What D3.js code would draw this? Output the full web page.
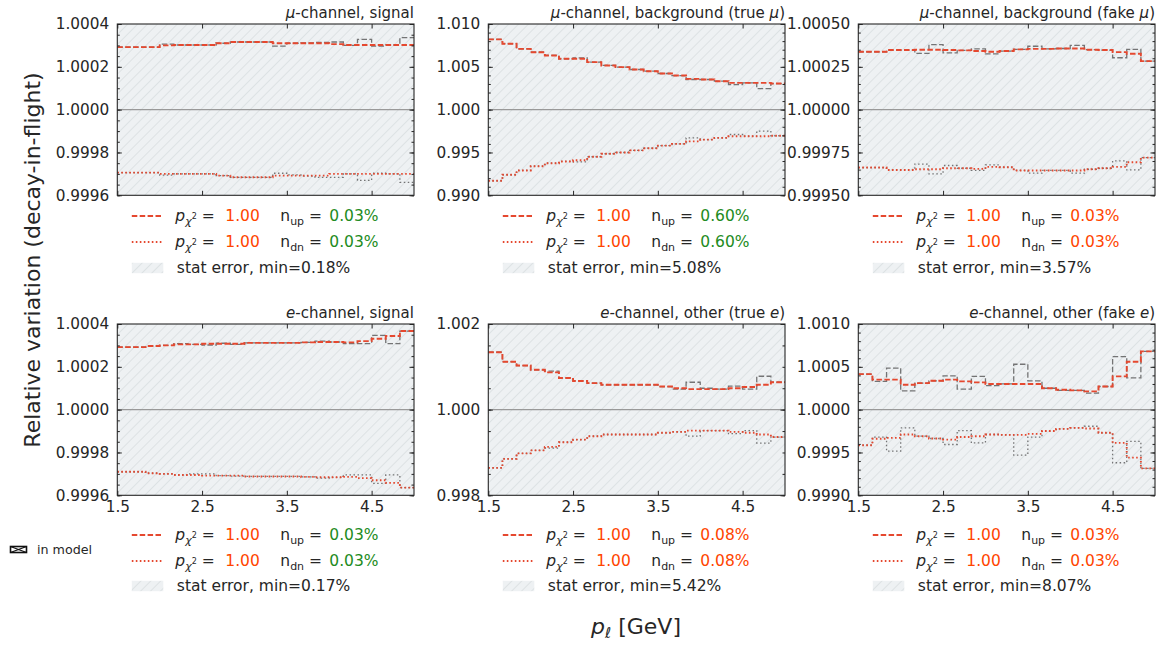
<!DOCTYPE html>
<html><head><meta charset="utf-8">
<script src="https://cdn.jsdelivr.net/npm/d3@7"></script>
<style>body{margin:0;background:#fff;} svg{display:block;font-family:"DejaVu Sans",sans-serif;}</style>
</head><body><svg id="c" width="1161" height="648"></svg>
<script>
// ---------------- data ----------------
const binEdges = [1.5,1.6667,1.8333,2.0,2.1667,2.3333,2.5,2.6667,2.8333,3.0,3.1667,3.3333,3.5,3.6667,3.8333,4.0,4.1667,4.3333,4.5,4.6667,4.8333,5.0];

const titles = ["$μ$-channel, signal","$μ$-channel, background (true $μ$)","$μ$-channel, background (fake $μ$)",
                "$e$-channel, signal","$e$-channel, other (true $e$)","$e$-channel, other (fake $e$)"];

// mu-channel, signal
const muSigUpModel = [1.000292,1.000292,1.000292,1.000300,1.000302,1.000302,1.000302,1.000310,1.000316,1.000316,1.000316,1.000310,1.000310,1.000310,1.000310,1.000306,1.000302,1.000302,1.000302,1.000302,1.000302];
const muSigUpRaw   = [1.000292,1.000292,1.000292,1.000306,1.000302,1.000302,1.000302,1.000310,1.000316,1.000316,1.000316,1.000297,1.000310,1.000312,1.000314,1.000316,1.000300,1.000328,1.000297,1.000302,1.000336];
const muSigDnModel = [0.999706,0.999706,0.999706,0.999700,0.999700,0.999700,0.999700,0.999692,0.999684,0.999684,0.999684,0.999692,0.999692,0.999692,0.999692,0.999700,0.999700,0.999700,0.999700,0.999700,0.999700];
const muSigDnRaw   = [0.999706,0.999706,0.999706,0.999694,0.999700,0.999700,0.999700,0.999692,0.999684,0.999684,0.999684,0.999703,0.999695,0.999690,0.999684,0.999684,0.999700,0.999670,0.999703,0.999700,0.999660];

// mu-channel, background (true mu)
const muTrueUpModel = [1.00820,1.00770,1.00710,1.00670,1.00633,1.00594,1.00594,1.00555,1.00516,1.00496,1.00469,1.00449,1.00422,1.00398,1.00359,1.00352,1.00332,1.00313,1.00313,1.00313,1.00305];
const muTrueUpRaw   = [1.00820,1.00770,1.00710,1.00670,1.00633,1.00594,1.00605,1.00555,1.00516,1.00496,1.00469,1.00449,1.00422,1.00398,1.00352,1.00352,1.00332,1.00293,1.00313,1.00245,1.00305];
const muTrueDnModel = [0.99170,0.99240,0.99290,0.99340,0.99375,0.99395,0.99410,0.99450,0.99485,0.99500,0.99525,0.99550,0.99580,0.99600,0.99630,0.99650,0.99670,0.99690,0.99690,0.99690,0.99695];
const muTrueDnRaw   = [0.99170,0.99240,0.99290,0.99340,0.99375,0.99395,0.99390,0.99450,0.99485,0.99500,0.99525,0.99550,0.99580,0.99600,0.99670,0.99650,0.99670,0.99710,0.99690,0.99750,0.99695];

// mu-channel, background (fake mu)
const muFakeUpModel = [1.000338,1.000338,1.000348,1.000348,1.000350,1.000350,1.000348,1.000346,1.000342,1.000338,1.000342,1.000352,1.000355,1.000355,1.000357,1.000357,1.000350,1.000348,1.000336,1.000326,1.000283];
const muFakeUpRaw   = [1.000338,1.000338,1.000348,1.000348,1.000328,1.000380,1.000332,1.000346,1.000355,1.000326,1.000342,1.000352,1.000370,1.000355,1.000357,1.000375,1.000350,1.000348,1.000303,1.000352,1.000283];
const muFakeDnModel = [0.999662,0.999662,0.999648,0.999648,0.999652,0.999652,0.999658,0.999658,0.999654,0.999666,0.999664,0.999645,0.999645,0.999645,0.999645,0.999645,0.999652,0.999658,0.999666,0.999693,0.999720];
const muFakeDnRaw   = [0.999662,0.999662,0.999648,0.999648,0.999682,0.999625,0.999674,0.999658,0.999645,0.999678,0.999664,0.999645,0.999629,0.999645,0.999645,0.999629,0.999652,0.999658,0.999701,0.999648,0.999720];

// e-channel, signal
const eSigUpModel = [1.000292,1.000292,1.000297,1.000300,1.000305,1.000305,1.000308,1.000308,1.000308,1.000312,1.000312,1.000312,1.000312,1.000314,1.000316,1.000316,1.000314,1.000320,1.000331,1.000344,1.000367];
const eSigUpRaw   = [1.000292,1.000292,1.000297,1.000300,1.000308,1.000305,1.000302,1.000310,1.000305,1.000312,1.000312,1.000312,1.000312,1.000314,1.000320,1.000316,1.000308,1.000308,1.000347,1.000308,1.000367];
const eSigDnModel = [0.999710,0.999710,0.999703,0.999700,0.999695,0.999695,0.999692,0.999692,0.999692,0.999688,0.999688,0.999688,0.999688,0.999686,0.999684,0.999684,0.999686,0.999680,0.999670,0.999658,0.999636];
const eSigDnRaw   = [0.999710,0.999710,0.999703,0.999700,0.999695,0.999700,0.999700,0.999692,0.999690,0.999688,0.999688,0.999688,0.999688,0.999686,0.999680,0.999684,0.999695,0.999695,0.999656,0.999695,0.999636];

// e-channel, other (true e)
const eTrueUpModel = [1.00134,1.00112,1.00103,1.00093,1.00087,1.00074,1.00067,1.00062,1.00058,1.00058,1.00058,1.00058,1.00054,1.00050,1.00048,1.00048,1.00048,1.00050,1.00053,1.00058,1.00064];
const eTrueUpRaw   = [1.00134,1.00112,1.00103,1.00093,1.00090,1.00074,1.00067,1.00062,1.00058,1.00058,1.00058,1.00058,1.00054,1.00048,1.00064,1.00050,1.00048,1.00055,1.00048,1.00078,1.00064];
const eTrueDnModel = [0.99864,0.99885,0.99898,0.99905,0.99913,0.99924,0.99930,0.99938,0.99942,0.99942,0.99942,0.99942,0.99946,0.99948,0.99951,0.99951,0.99951,0.99948,0.99946,0.99942,0.99936];
const eTrueDnRaw   = [0.99864,0.99885,0.99898,0.99905,0.99910,0.99924,0.99930,0.99938,0.99942,0.99942,0.99942,0.99942,0.99946,0.99948,0.99938,0.99951,0.99951,0.99944,0.99951,0.99922,0.99936];

// e-channel, other (fake e)
const eFakeUpModel = [1.000415,1.000350,1.000350,1.000290,1.000310,1.000337,1.000350,1.000330,1.000318,1.000300,1.000300,1.000300,1.000300,1.000250,1.000233,1.000225,1.000213,1.000270,1.000388,1.000560,1.000680];
const eFakeUpRaw   = [1.000415,1.000330,1.000485,1.000220,1.000310,1.000337,1.000395,1.000240,1.000388,1.000280,1.000300,1.000530,1.000337,1.000250,1.000225,1.000225,1.000194,1.000270,1.000620,1.000370,1.000680];
const eFakeDnModel = [0.999585,0.999660,0.999670,0.999710,0.999690,0.999663,0.999650,0.999680,0.999690,0.999710,0.999705,0.999705,0.999717,0.999750,0.999775,0.999787,0.999780,0.999730,0.999612,0.999440,0.999314];
const eFakeDnRaw   = [0.999585,0.999680,0.999515,0.999787,0.999690,0.999663,0.999593,0.999756,0.999612,0.999710,0.999705,0.999470,0.999680,0.999750,0.999775,0.999787,0.999806,0.999730,0.999380,0.999630,0.999314];

const upModel = [muSigUpModel, muTrueUpModel, muFakeUpModel, eSigUpModel, eTrueUpModel, eFakeUpModel];
const upRaw   = [muSigUpRaw, muTrueUpRaw, muFakeUpRaw, eSigUpRaw, eTrueUpRaw, eFakeUpRaw];
const dnModel = [muSigDnModel, muTrueDnModel, muFakeDnModel, eSigDnModel, eTrueDnModel, eFakeDnModel];
const dnRaw   = [muSigDnRaw, muTrueDnRaw, muFakeDnRaw, eSigDnRaw, eTrueDnRaw, eFakeDnRaw];

const pChi2Up = ["1.00","1.00","1.00","1.00","1.00","1.00"];
const pChi2Dn = ["1.00","1.00","1.00","1.00","1.00","1.00"];
const nUp = ["0.03%","0.60%","0.03%","0.03%","0.08%","0.03%"];
const nDn = ["0.03%","0.60%","0.03%","0.03%","0.08%","0.03%"];
const statErrMin = [0.0018, 0.0508, 0.0357, 0.0017, 0.0542, 0.0807];

const yDomains = [[0.9996,1.0004],[0.990,1.010],[0.9995,1.0005],[0.9996,1.0004],[0.998,1.002],[0.999,1.001]];
const yMajorTicks = [[0.9996,0.9998,1.0,1.0002,1.0004],[0.990,0.995,1.0,1.005,1.010],[0.9995,0.99975,1.0,1.00025,1.0005],
                     [0.9996,0.9998,1.0,1.0002,1.0004],[0.998,1.0,1.002],[0.999,0.9995,1.0,1.0005,1.001]];
const yMinorStep = [0.00005,0.001,0.00005,0.00005,0.0005,0.0001];
const yTickFormats = [".4f",".3f",".5f",".4f",".3f",".4f"];
const xDomain = [1.5, 5.0];
const xTickValues = [1.5, 2.5, 3.5, 4.5];

// ---------------- style ----------------
const RED = "#e5482f", GRAY = "#555", ORANGE = "#ff4500", GREEN = "#228b22";
const nColors = [GREEN, GREEN, ORANGE, GREEN, ORANGE, ORANGE];
const lefts = [117.3, 488.3, 858.3], tops = [24, 324], PW = 296.7, PH = 171.3;
const legendRowsY = [[216, 242, 268], [535, 561, 586]];
const FS = 15.3, LFS = 15.5;

const svg = d3.select("#c");
const defs = svg.append("defs");
const pat = defs.append("pattern").attr("id","hatch").attr("patternUnits","userSpaceOnUse")
  .attr("width",7).attr("height",7).attr("patternTransform","rotate(45)");
pat.append("rect").attr("width",7).attr("height",7).attr("fill","#eef1f3");
pat.append("line").attr("x1",0).attr("y1",0).attr("x2",0).attr("y2",7).attr("stroke","#d5dadd").attr("stroke-width",1.3);

function richText(sel, str){
  str.split("$").forEach((s,i)=>{ if(s.length) sel.append("tspan").attr("font-style", i%2 ? "italic":"normal").text(s); });
}

for (let k = 0; k < 6; k++) {
  const col = k % 3, row = Math.floor(k / 3);
  const L = lefts[col], T = tops[row];
  const g = svg.append("g").attr("transform", `translate(${L},${T})`);
  const x = d3.scaleLinear().domain(xDomain).range([0, PW]);
  const y = d3.scaleLinear().domain(yDomains[k]).range([PH, 0]);

  defs.append("clipPath").attr("id","clip"+k).append("rect").attr("width",PW).attr("height",PH);
  const pg = g.append("g").attr("clip-path",`url(#clip${k})`);

  // stat error band
  const band = d3.area().x(d=>x(d)).y0(y(1 - statErrMin[k])).y1(y(1 + statErrMin[k]));
  pg.append("path").datum(binEdges).attr("d", band).attr("fill","url(#hatch)");
  // reference line at 1
  pg.append("line").attr("x1",0).attr("x2",PW).attr("y1",y(1)).attr("y2",y(1)).attr("stroke","#999").attr("stroke-width",1.1);

  const stepLine = d3.line().x(d=>x(d[0])).y(d=>y(d[1])).curve(d3.curveStepAfter);
  const pts = vals => vals.map((v,i)=>[binEdges[i], v]).concat([[binEdges[binEdges.length-1], vals[vals.length-1]]]);
  const draw = (vals, color, w, dash, op) => pg.append("path").datum(pts(vals)).attr("d", stepLine)
      .attr("fill","none").attr("stroke",color).attr("stroke-width",w).attr("stroke-dasharray",dash).attr("opacity",op);
  draw(upRaw[k], GRAY, 1.3, "5.5,2.4", 0.8);
  draw(dnRaw[k], GRAY, 1.3, "1.5,2.5", 0.8);
  draw(upModel[k], RED, 1.9, "5.5,2.4", 1);
  draw(dnModel[k], RED, 1.9, "1.6,2.4", 1);

  // axes
  const minorTicks = d3.range(yDomains[k][0], yDomains[k][1] + yMinorStep[k]/2, yMinorStep[k]);
  const styleAxis = a => { a.select(".domain").remove(); a.selectAll("line").attr("stroke","#262626").attr("stroke-width",1);
      a.selectAll("text").attr("font-size",FS).attr("fill","#262626").attr("font-family","DejaVu Sans"); };
  g.append("g").call(d3.axisLeft(y).tickValues(minorTicks).tickSize(-2.5).tickFormat("")).call(styleAxis);
  g.append("g").attr("transform",`translate(${PW},0)`).call(d3.axisRight(y).tickValues(minorTicks).tickSize(-2.5).tickFormat("")).call(styleAxis);
  g.append("g").call(d3.axisLeft(y).tickValues(yMajorTicks[k]).tickSize(-4.5).tickPadding(8).tickFormat(d3.format(yTickFormats[k]))).call(styleAxis);
  g.append("g").attr("transform",`translate(${PW},0)`).call(d3.axisRight(y).tickValues(yMajorTicks[k]).tickSize(-4.5).tickFormat("")).call(styleAxis);
  g.append("g").attr("transform",`translate(0,${PH})`).call(d3.axisBottom(x).tickValues(xTickValues).tickSize(-4.5).tickPadding(6)
      .tickFormat(row === 1 ? d3.format(".1f") : "")).call(styleAxis);
  g.append("g").call(d3.axisTop(x).tickValues(xTickValues).tickSize(-4.5).tickFormat("")).call(styleAxis);

  g.append("rect").attr("width",PW).attr("height",PH).attr("fill","none").attr("stroke","#262626").attr("stroke-width",1.1);

  // title
  const t = g.append("text").attr("x",PW).attr("y",-6).attr("text-anchor","end").attr("font-size",15).attr("fill","#262626");
  richText(t, titles[k]);

  // legend
  const lg = svg.append("g").attr("transform",`translate(${L},0)`).attr("font-size",LFS).attr("fill","#262626");
  const ry = legendRowsY[row];
  const rows = [[pChi2Up[k], nUp[k], "up", "5.5,2.4", 1.9], [pChi2Dn[k], nDn[k], "dn", "1.6,2.4", 1.9]];
  rows.forEach((r,i)=>{
    const cy = ry[i];
    lg.append("line").attr("x1",14.5).attr("x2",46).attr("y1",cy).attr("y2",cy).attr("stroke",RED).attr("stroke-width",r[4]).attr("stroke-dasharray",r[3]);
    const t1 = lg.append("text").attr("x",58).attr("y",cy).attr("dy","0.35em");
    t1.append("tspan").attr("font-style","italic").text("p");
    t1.append("tspan").attr("font-style","italic").attr("font-size",11).attr("dy",3.5).text("χ");
    t1.append("tspan").attr("font-size",8).attr("dy",-6).text("2");
    t1.append("tspan").attr("dy",2.5).text(" =");
    lg.append("text").attr("x",108).attr("y",cy).attr("dy","0.35em").attr("fill",ORANGE).text(r[0]);
    const t2 = lg.append("text").attr("x",163).attr("y",cy).attr("dy","0.35em");
    t2.append("tspan").text("n");
    t2.append("tspan").attr("font-size",11).attr("dy",3.5).text(r[2]);
    t2.append("tspan").attr("dy",-3.5).text(" =");
    lg.append("text").attr("x",212).attr("y",cy).attr("dy","0.35em").attr("fill",nColors[k]).text(r[1]);
  });
  lg.append("rect").attr("x",14.5).attr("y",ry[2]-5.2).attr("width",31.5).attr("height",10.4).attr("fill","url(#hatch)");
  lg.append("text").attr("x",59.5).attr("y",ry[2]).attr("dy","0.35em").text("stat error, min=" + (statErrMin[k]*100).toFixed(2) + "%");
}

// "in model" marker
const im = svg.append("g");
im.append("rect").attr("x",10.5).attr("y",546.5).attr("width",16).attr("height",6).attr("fill","none").attr("stroke","#111").attr("stroke-width",1.6);
im.append("path").attr("d","M10.5,546.5L26.5,552.5M10.5,552.5L26.5,546.5").attr("stroke","#111").attr("stroke-width",1.2);
im.append("text").attr("x",37).attr("y",550).attr("dy","0.35em").attr("font-size",12.7).attr("fill","#262626").text("in model");

// axis titles
svg.append("text").attr("transform","translate(40,260) rotate(-90)").attr("text-anchor","middle")
  .attr("font-size",22).attr("fill","#262626").text("Relative variation (decay-in-flight)");
const xl = svg.append("text").attr("x",636).attr("y",634).attr("text-anchor","middle").attr("font-size",22).attr("fill","#262626");
xl.append("tspan").attr("font-style","italic").text("p");
xl.append("tspan").attr("font-style","italic").attr("font-size",15).attr("dy",4).text("ℓ");
xl.append("tspan").attr("dy",-4).text(" [GeV]");
</script></body></html>
